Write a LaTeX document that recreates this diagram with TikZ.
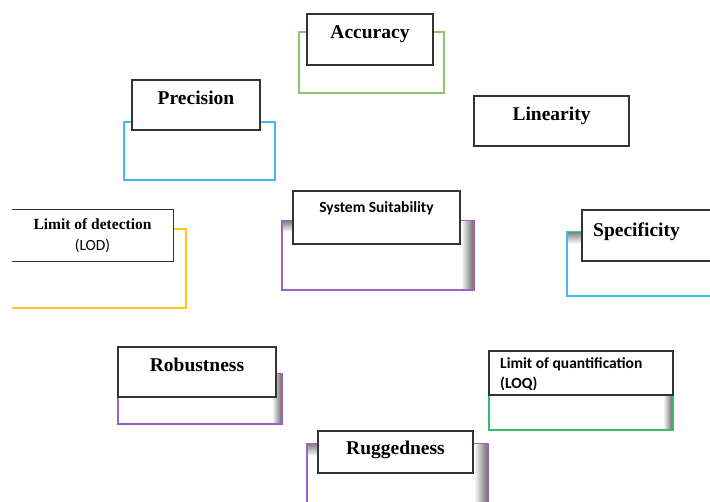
\documentclass[tikz,border=0pt]{standalone}
\usepackage{fontspec}
\setmainfont{Liberation Serif}
\newfontfamily\boxsans{Carlito}
\definecolor{box border color}{HTML}{333333}
\definecolor{accuracy color}{HTML}{8DC46E}
\definecolor{precision color}{HTML}{3DBDEB}
\definecolor{detection color}{HTML}{FFC51A}
\definecolor{suitability color}{HTML}{9B63C9}
\definecolor{quantification color}{HTML}{3CBB6C}
\tikzset{
    x={1pt},
    y={-1pt},
    param box/.style={
        draw=box border color, fill=white,
        line width={1.2pt},
        inner sep=0pt, outer sep=0pt,
    },
    param frame/.style={
        draw={#1},
        line width={1.2pt},
    },
    param shadow/.style={
        left color=white, right color=black!55,
    },
    param label/.style={
        font={\fontsize{19.5}{22}\selectfont\bfseries},
        anchor=base,
        inner sep=0pt,
    },
    small label/.style={
        font={\fontsize{15.5}{18}\selectfont\boxsans#1},
        anchor=base,
        inner sep=0pt,
    },
    small label/.default={},
}

\begin{document}
\begin{tikzpicture}
\useasboundingbox (0,0) rectangle (710,502);
% frames
\path[param frame={accuracy color}] (299,32) rectangle (444,93);
\path[param frame={precision color}] (124,122) rectangle (275,180);
\path[param frame={detection color}] (173,229) -- (186,229) -- (186,308) -- (12,308);
\path[param frame={suitability color}] (282,221) rectangle (474,290);
\path[param frame={precision color}] (567,232) rectangle (715,296);
\path[param frame={suitability color}] (118,374) rectangle (282,424);
\path[param frame={quantification color}] (489,380) rectangle (673,430);
\path[param frame={suitability color}] (307,444) rectangle (488,510);
% shadows
\shade[param shadow] (461,222) rectangle (473,289);
\shade[top color=black!45, bottom color=white] (283,222) rectangle (293,232);
\shade[param shadow] (272,375) rectangle (281,423);
\shade[param shadow] (663,396) rectangle (672,429);
\shade[param shadow] (474,445) rectangle (487,502);
\shade[top color=black!45, bottom color=white] (308,445) rectangle (318,456);
\shade[top color=black!45, bottom color=white] (568,233) rectangle (582,244);
% boxes
\node[param box, minimum width=126, minimum height=51] (accuracy) at (370,39.5) {};
\node[param box, minimum width=128, minimum height=50] (precision) at (196,105) {};
\node[param box, minimum width=155, minimum height=50] (linearity) at (551.5,121) {};
\node[fill=white, inner sep=0pt, minimum width=161, minimum height=51] (detection) at (92.5,235.5) {};
\draw[param frame={box border color}] (detection.north west) -- (detection.north east) -- (detection.south east) -- (detection.south west);
\node[param box, minimum width=167, minimum height=53] (suitability) at (376.5,217.5) {};
\node[param box, minimum width=134, minimum height=51] (specificity) at (649,235.5) {};
\node[param box, minimum width=158, minimum height=50] (robustness) at (197,372) {};
\node[param box, minimum width=184, minimum height=44] (quantification) at (581,373) {};
\node[param box, minimum width=155, minimum height=42] (ruggedness) at (395.5,452) {};
% labels
\node[param label] at ([yshift=-24.5pt]accuracy.north) {Accuracy};
\node[param label] at ([yshift=-24.5pt]precision.north) {Precision};
\node[param label] at ([yshift=-25pt]linearity.north) {Linearity};
\node[param label, font={\fontsize{15.5}{18}\selectfont\bfseries}] at ([yshift=-20pt]detection.north) {Limit of detection};
\node[small label] at ([yshift=-41pt]detection.north) {(LOD)};
\node[small label=\bfseries] at ([yshift=-22pt]suitability.north) {System Suitability};
\node[param label, anchor=base west] at ([xshift=11pt,yshift=-26.5pt]specificity.north west) {Specificity};
\node[param label] at ([yshift=-25pt]robustness.north) {Robustness};
\node[small label=\bfseries, anchor=base west] at ([xshift=11pt,yshift=-18pt]quantification.north west) {Limit of quantification};
\node[small label=\bfseries, anchor=base west] at ([xshift=11pt,yshift=-38pt]quantification.north west) {(LOQ)};
\node[param label] at ([yshift=-23.5pt]ruggedness.north) {Ruggedness};
\end{tikzpicture}
\end{document}
